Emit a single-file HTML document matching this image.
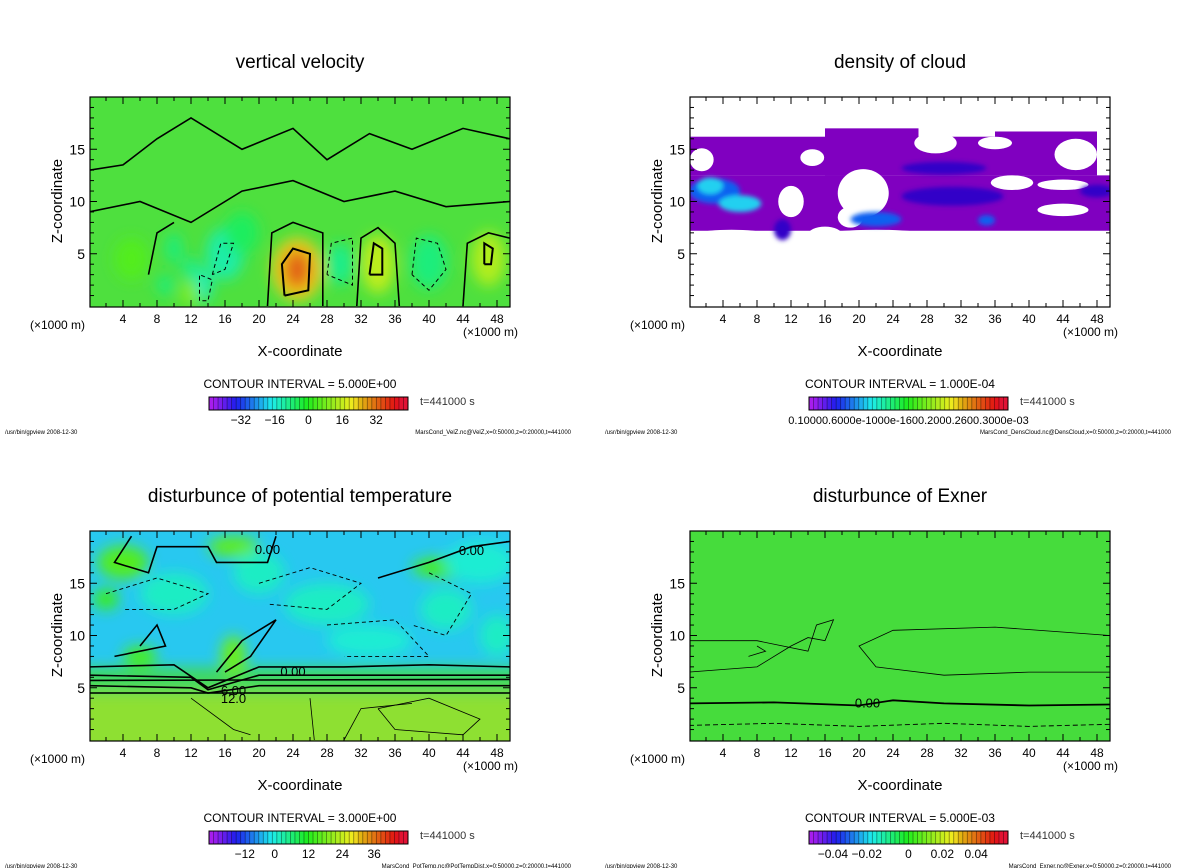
<!DOCTYPE html>
<html><head><meta charset="utf-8">
<style>
html,body{margin:0;padding:0;background:#fff;}
svg{display:block;font-family:"Liberation Sans",sans-serif;}
</style></head>
<body>
<svg id="root" width="1200" height="868" viewBox="0 0 1200 868">
<defs>
<filter id="blur8" x="-50%" y="-50%" width="200%" height="200%"><feGaussianBlur stdDeviation="7"/></filter>
<filter id="blur3" x="-50%" y="-50%" width="200%" height="200%"><feGaussianBlur stdDeviation="2.5"/></filter>
</defs>
</svg>
<script>
// ---------- data ----------
const xTicks=[4,8,12,16,20,24,28,32,36,40,44,48];
const zTicks=[5,10,15];
const titles=["vertical velocity","density of cloud","disturbunce of potential temperature","disturbunce of Exner"];
const intervals=["CONTOUR INTERVAL = 5.000E+00","CONTOUR INTERVAL = 1.000E-04","CONTOUR INTERVAL = 3.000E+00","CONTOUR INTERVAL = 5.000E-03"];
const cbLabels=[["-32","-16","0","16","32"],["0.10000.6000e-1000e-1600.2000.2600.3000e-03"],["-12","0","12","24","36"],["-0.04","-0.02","0","0.02","0.04"]];
const cbLabelPos=[[0.16,0.33,0.5,0.67,0.84],[0.5],[0.18,0.33,0.5,0.67,0.83],[0.12,0.29,0.5,0.67,0.84]];
const footers=["MarsCond_VelZ.nc@VelZ,x=0:50000,z=0:20000,t=441000","MarsCond_DensCloud.nc@DensCloud,x=0:50000,z=0:20000,t=441000","MarsCond_PotTemp.nc@PotTempDist,x=0:50000,z=0:20000,t=441000","MarsCond_Exner.nc@Exner,x=0:50000,z=0:20000,t=441000"];
// blobs: [x km, z km, rx km, rz km, value]
const velBlobs=[[24.5,3.5,3,3,20],[24.5,3.5,1.5,1.8,28],[34,4,2,2.8,13],[47,4.5,2,2.6,12],[16,5,2.2,2.5,-10],[13.5,2,1,1.6,-11],[12,3.5,1,1.2,-8],[29.5,4,1.6,2,-8],[40,4.2,2.2,2.6,-7],[10,5.5,1,1.5,-7],[9,2,1,1,-7],[11.8,1.2,1,1.2,8],[5,4.5,2,2,4],[18,7,2,2,-5]];
const tempBlobs=[[4,17,3,1.6,4],[17,18.5,3,1,5],[42,16.5,4,1,3],[17,8,1.5,2,6],[6,8,2,1,3],[2,13.5,1.5,1,2],[10,14,4,2,-12],[28,13,5,2,-12],[33,9.5,5,1.5,-13],[46,17,4,2,-13],[42,12.5,3,2,-12],[20,16,3,2,-12],[48,10,2,2,-12]];
const cloudBlobs=[[3,11,3,1.2,2],[6,9.8,2.5,0.8,3],[2.5,11.5,1.5,0.8,3],[22,8.3,3,0.7,2],[31,10.5,6,0.9,1],[30,13.2,5,0.6,1],[48,11,2,0.6,1],[11,7.3,1,1,1],[35,8.2,1,0.5,1.5]];
// cloud purple regions: [x0, x1, zlow, zhigh]
const cloudFill=[[0,49.5,7.2,12.5],[0,20,12.5,16.2],[16,27,12.5,17],[27,36,12.5,16.2],[36,48,12.5,16.7]];
// cloud gaps: [x, z, rx, rz]
const cloudHoles=[[1.5,14,1.4,1.1],[14.5,14.2,1.4,0.8],[20.5,10.8,3,2.3],[19,8.5,1.5,1],[29,15.6,2.5,1],[38,11.8,2.5,0.7],[45.5,14.5,2.5,1.5],[44,9.2,3,0.6],[44,11.6,3,0.5],[12,10,1.5,1.5],[22,6.8,6,0.5],[5,7,3.5,0.3],[16,6.8,2,0.8],[36,15.6,2,0.6]];
const velLines=[[[21,0],[21.5,7],[24,8],[27.5,7],[27.5,0]],[[31.5,0],[32,6.5],[34,7.5],[36,6],[36.5,0]],[[44,0],[44.5,6],[47,7],[49.5,6.5]],[[0,13],[4,13.5],[8,16],[12,18],[18,15],[24,17],[28,14],[33,16.5],[38,15],[44,17],[49.5,16]],[[0,9],[6,10],[12,8],[18,11],[24,12],[30,10],[36,11],[42,9.5],[49.5,10]],[[7,3],[8,7],[10,8]]];
const velThick=[[[23,1],[22.7,4],[24,5.5],[26,5],[25.8,1.5],[23,1]],[[33,3],[33.5,6],[34.5,5.5],[34.5,3],[33,3]],[[46.5,4],[46.5,6],[47.5,5.5],[47.3,4],[46.5,4]]];
const velDashed=[[[14.5,3],[15.5,6],[17,6],[16,3.5],[14.5,3]],[[13,0.5],[13,3],[14.5,2.5],[14,0.5],[13,0.5]],[[38,3],[38.5,6.5],[41,6],[42,3.5],[40,1.5],[38,3]],[[28,3],[28.5,6],[31,6.5],[31,2],[28,3]]];
const tempLines=[[[0,7],[10,7.2],[14,5],[20,7],[30,7],[40,7.2],[49.5,7]],[[0,6.2],[12,6],[14,4.8],[20,6.2],[49.5,6.2]],[[0,5.7],[49.5,5.8]],[[0,5.2],[12,5],[14,4.5],[20,5.2],[49.5,5.2]],[[0,4.5],[49.5,4.5]],[[5,19.5],[3,17],[7,16],[8,18.5],[14,18.5],[15,17],[21,17],[22,19.5]],[[34,15.5],[40,17],[45,18.5],[49.5,19]],[[15,6.5],[18,9.5],[22,11.5],[19,8],[16,6.5]],[[3,8],[9,9],[8,11],[6,9]]];
const tempThin=[[[12,4],[17,1],[19,0.5]],[[26,4],[26.5,0]],[[34,3],[40,4],[46,2],[44,0.5],[36,1],[34,3]],[[30,0],[32,3],[38,3.5]]];
const tempDashed=[[[2,14],[8,15.5],[14,14],[10,12.5],[4,12.5]],[[20,15],[26,16.5],[32,15],[28,12.5],[21,13]],[[28,11],[36,11.5],[40,8],[30,8]],[[40,16],[45,14],[42,10],[38,11]]];
const exnerThick=[[[0,3.5],[10,3.6],[20,3.3],[24,3.8],[30,3.5],[40,3.3],[49.5,3.4]]];
const exnerThin=[[[0,6.5],[8,7],[12,9],[14,9.8],[16,9.5],[17,11.5],[15,11],[14,8.5],[8,9.5],[0,9.5]],[[49.5,6.5],[40,6.5],[30,6.2],[22,7],[20,9],[24,10.5],[36,10.8],[49.5,10]],[[7,8],[9,8.5],[8,9]]];
const exnerDashed=[[[0,1.4],[10,1.6],[20,1.3],[30,1.6],[40,1.3],[49.5,1.5]]];

const NS="http://www.w3.org/2000/svg";
const root=document.getElementById('root');
function el(tag,attrs,parent){const e=document.createElementNS(NS,tag);for(const k in attrs)e.setAttribute(k,attrs[k]);(parent||root).appendChild(e);return e;}
function cmap(v){let h=v>=0?118-v*3.4:118-v*4.2;h=Math.max(-10,Math.min(280,h));let l=v>20?48:52;return `hsl(${h},85%,${l}%)`;}
const cloudCols=["#8000c0","#3000c8","#1060f0","#20d0f0","#40e040"];

function panel(i,ox,oy){
  const L=90+ox,R=510+ox,T=97+oy,B=307+oy;
  const X=x=>89+ox+x*8.5, Z=z=>306+oy-z*10.45;
  const g=el('g',{});
  
  
  const t=el('text',{x:300+ox,y:68+oy,'text-anchor':'middle','font-size':19},g);t.textContent=titles[i];
  
  
  const cid='clip'+i;
  const cp=el('clipPath',{id:cid},g);el('rect',{x:L,y:T,width:R-L,height:B-T},cp);
  const area=el('g',{'clip-path':`url(#${cid})`},g);
  
  
  const path=(pts,attrs)=>{const d=pts.map((p,j)=>(j?'L':'M')+X(p[0]).toFixed(1)+','+Z(p[1]).toFixed(1)).join('');const e=el('path',Object.assign({d:d,fill:'none'},attrs),area);return e;};
  if(i!==1){
    const base=i===0?'#4ee03e':i===3?'#46dc3c':'#28c8f0';
    el('rect',{x:L,y:T,width:R-L,height:B-T,fill:base},area);
    const bg=el('g',{filter:'url(#blur8)'},area);
    if(i===2){
      el('rect',{x:L-20,y:Z(4.6),width:R-L+40,height:Z(0)-Z(4.6)+20,fill:'#8ee030'},bg);
      el('rect',{x:L-20,y:Z(7),width:R-L+40,height:Z(4.6)-Z(7),fill:'#40d860'},bg);
    }
    const blobs=i===0?velBlobs:i===2?tempBlobs:[];
    blobs.forEach(b=>{const e=el('ellipse',{cx:X(b[0]),cy:Z(b[1]),rx:b[2]*8.5,ry:b[3]*10.45,fill:cmap(b[4])},bg);});
    if(i===2){el('rect',{x:L,y:Z(4.6),width:R-L,height:2,fill:'#50d040'},area);}
  } else {
    el('rect',{x:L,y:T,width:R-L,height:B-T,fill:'#fff'},area);
    cloudFill.forEach(r=>{const e=el('rect',{x:X(r[0]),y:Z(r[3]),width:(r[1]-r[0])*8.5,height:Z(r[2])-Z(r[3]),fill:cloudCols[0]},area);});
    cloudHoles.forEach(h=>{const e=el('ellipse',{cx:X(h[0]),cy:Z(h[1]),rx:h[2]*8.5,ry:h[3]*10.45,fill:'#fff'},area);});
    const bg=el('g',{filter:'url(#blur3)'},area);
    cloudBlobs.forEach(b=>{const e=el('ellipse',{cx:X(b[0]),cy:Z(b[1]),rx:b[2]*8.5,ry:b[3]*10.45,fill:cloudCols[Math.min(4,Math.round(b[4]))]},bg);});
  }
  if(i===0){velLines.forEach(p=>path(p,{stroke:'#000','stroke-width':1.6}));velThick.forEach(p=>path(p,{stroke:'#000','stroke-width':2}));velDashed.forEach(p=>path(p,{stroke:'#000','stroke-width':1,'stroke-dasharray':'4,3'}));}
  if(i===2){tempLines.forEach(p=>path(p,{stroke:'#000','stroke-width':1.6}));tempThin.forEach(p=>path(p,{stroke:'#000','stroke-width':0.8}));tempDashed.forEach(p=>path(p,{stroke:'#000','stroke-width':0.9,'stroke-dasharray':'4,3'}));
    [[21,18.3,'0.00'],[45,18.2,'0.00'],[24,6.6,'0.00'],[17,4.8,'6.00'],[17,4,'12.0']].forEach(l=>{const e=el('text',{x:X(l[0]),y:Z(l[1])+5,'font-size':13,'text-anchor':'middle'},area);e.textContent=l[2];});}
  if(i===3){exnerThick.forEach(p=>path(p,{stroke:'#000','stroke-width':1.8}));exnerThin.forEach(p=>path(p,{stroke:'#000','stroke-width':0.8}));exnerDashed.forEach(p=>path(p,{stroke:'#000','stroke-width':0.9,'stroke-dasharray':'5,3'}));
    const e=el('text',{x:X(21),y:Z(3.6)+5,'font-size':13,'text-anchor':'middle'},area);e.textContent='0.00';}
  const fr=el('rect',{x:L,y:T,width:R-L,height:B-T,fill:'none',stroke:'#000','stroke-width':1.2},g);
  
  
  for(let x=1;x<50;x++){const len=x%4===0?7:(x%2===0?4:0);if(!len)continue;el('line',{x1:X(x),x2:X(x),y1:B,y2:B-len,stroke:'#000'},g);el('line',{x1:X(x),x2:X(x),y1:T,y2:T+len,stroke:'#000'},g);}
  for(let z=1;z<20;z++){const len=z%5===0?7:4;el('line',{x1:L,x2:L+len,y1:Z(z),y2:Z(z),stroke:'#000'},g);el('line',{x1:R,x2:R-len,y1:Z(z),y2:Z(z),stroke:'#000'},g);}
  xTicks.forEach(x=>{const e=el('text',{x:X(x),y:B+16,'font-size':12,'text-anchor':'middle'},g);e.textContent=x;});
  zTicks.forEach(z=>{const e=el('text',{x:L-5,y:Z(z)+5,'font-size':14,'text-anchor':'end'},g);e.textContent=z;});
  let e=el('text',{x:30+ox,y:329+oy,'font-size':12},g);e.textContent='(×1000 m)';
  
  e=el('text',{x:518+ox,y:336+oy,'font-size':12,'text-anchor':'end'},g);e.textContent='(×1000 m)';
  
  e=el('text',{x:300+ox,y:356+oy,'font-size':15,'text-anchor':'middle'},g);e.textContent='X-coordinate';
  
  e=el('text',{x:0,y:0,'font-size':15,'text-anchor':'middle',transform:`translate(${62+ox},${201+oy}) rotate(-90)`},g);e.textContent='Z-coordinate';
  
  e=el('text',{x:300+ox,y:388+oy,'font-size':12,'text-anchor':'middle'},g);e.textContent=intervals[i];
  
  const cb=el('g',{},g);
  const cx0=209+ox,cw=199,cy=397+oy,ch=13,n=44;
  for(let k=0;k<n;k++){const v=-40+80*(k+0.5)/n;el('rect',{x:cx0+k*cw/n,y:cy,width:cw/n+0.3,height:ch,fill:cmap(v)},cb);el('line',{x1:cx0+k*cw/n,x2:cx0+k*cw/n,y1:cy,y2:cy+ch,stroke:'rgba(0,0,0,0.45)','stroke-width':0.8},cb);}
  el('rect',{x:cx0,y:cy,width:cw,height:ch,fill:'none',stroke:'#000'},cb);
  cbLabels[i].forEach((s,k)=>{const t=el('text',{x:cx0+cw*cbLabelPos[i][k],y:cy+27,'font-size':i===1?11:12,'text-anchor':'middle'},cb);t.textContent=s.replace(/^-/,'−');});
  e=el('text',{x:420+ox,y:cy+8,'font-size':11,fill:'#333'},g);e.textContent='t=441000 s';
  
  e=el('text',{x:5+ox,y:434+oy,'font-size':6},g);e.textContent='/usr/bin/gpview  2008-12-30';
  
  e=el('text',{x:571+ox,y:434+oy,'font-size':6,'text-anchor':'end'},g);e.textContent=footers[i];
  
}
panel(0,0,0);panel(1,600,0);panel(2,0,434);panel(3,600,434);
</script>
</body></html>
